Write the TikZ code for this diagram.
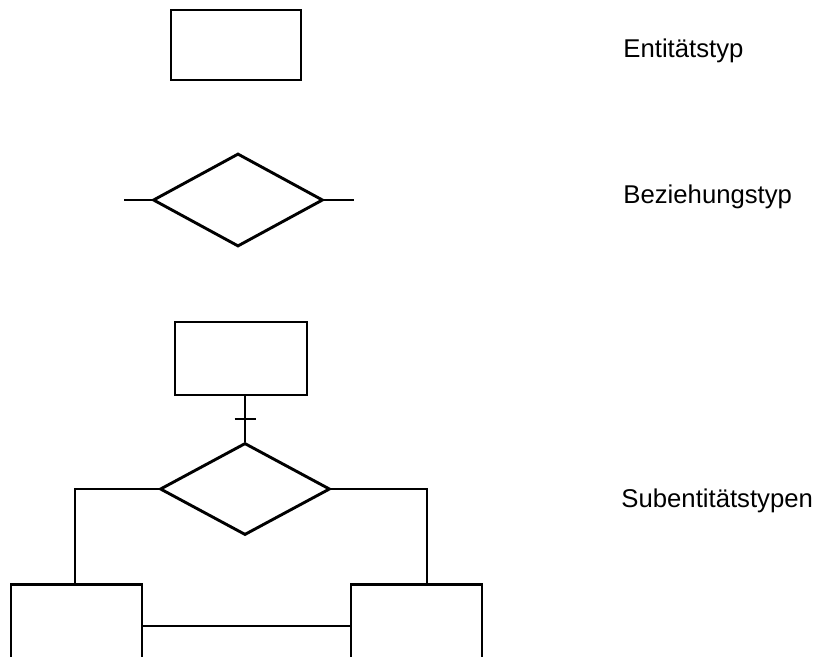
\documentclass[tikz,border=0pt]{standalone}
\usepackage{fontspec}
\setmainfont{Liberation Sans}
\usetikzlibrary{shapes.geometric, calc}

\tikzset{
	entity/.style={draw, rectangle, inner sep=0},
	relation/.style={draw, diamond, inner sep=0, aspect=1.83,
	                 minimum width=170pt, minimum height=93pt},
	legend/.style={anchor=base west, inner sep=0,
	               font=\fontsize{25.7}{30}\selectfont},
}

\begin{document}
\begin{tikzpicture}[x=1pt, y=-1pt, line width=2.9pt]
	\clip (0, 0) rectangle (821, 656);
	
	% Entitaetstyp
	\node (ent) at (236, 45) [entity, minimum width=130pt, minimum height=70pt] {};
	\node (entlabel) at (622, 57) [legend] {Entitätstyp};
	
	% Beziehungstyp
	\node (rel) at (238, 200) [relation] {};
	\draw (rel.west) -- ++(-28, 0);
	\draw (rel.east) -- ++(30, 0);
	\node (rellabel) at (622, 203) [legend] {Beziehungstyp};
	
	% Subentitaetstypen
	\node (super) at (241, 358.5) [entity, minimum width=132pt, minimum height=73pt] {};
	\node (isa) at (245, 489) [relation, minimum height=92pt] {};
	\node (sub1) at (76.5, 634.5) [entity, minimum width=131pt, minimum height=100pt] {};
	\node (sub2) at (416.5, 634.5) [entity, minimum width=131pt, minimum height=100pt] {};
	\node (sublabel) at (620, 507) [legend] {Subentitätstypen};
	
	\coordinate (tick) at ($(isa.north)!0.5!(isa.north |- super.south)$);
	\draw (isa.north) -- (isa.north |- super.south);
	\draw ([xshift=-10.5pt]tick) -- ([xshift=10.5pt]tick);
	
	\draw (isa.west) -| ([xshift=-1.5pt]sub1.north);
	\draw (isa.east) -| ([xshift=10.5pt]sub2.north);
	\draw ([yshift=8.5pt]sub1.east) -- ([yshift=8.5pt]sub2.west);
	
\end{tikzpicture}
\end{document}
